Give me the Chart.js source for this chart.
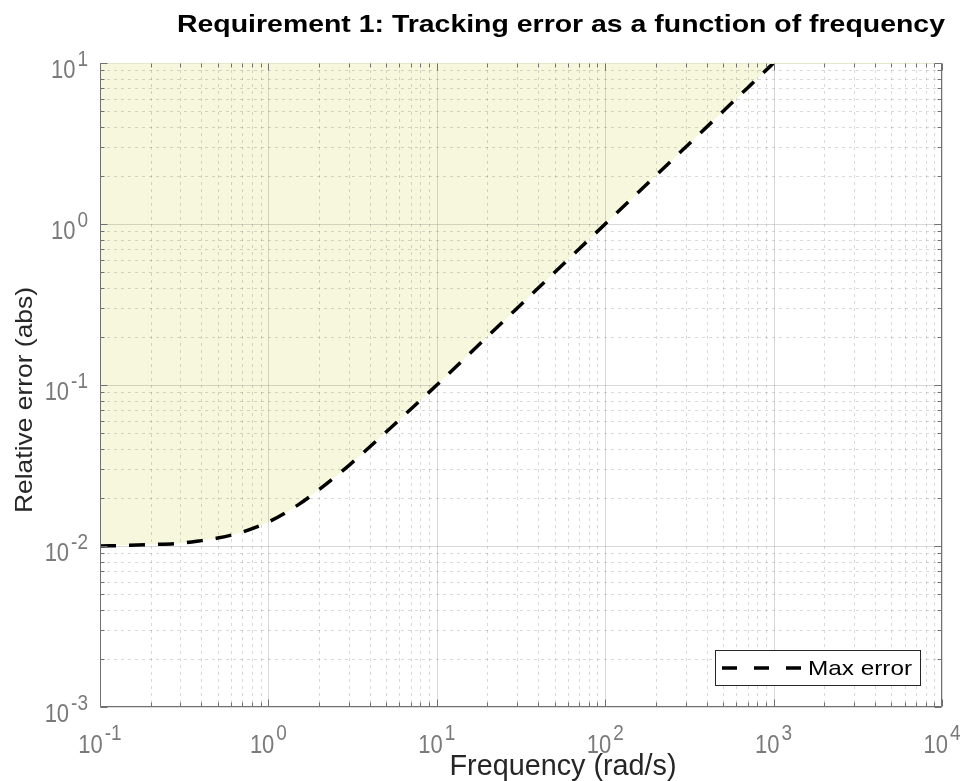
<!DOCTYPE html>
<html>
<head>
<meta charset="utf-8">
<script src="https://cdn.jsdelivr.net/npm/chart.js@4.4.1/dist/chart.umd.min.js"></script>
<style>
  html, body { margin: 0; padding: 0; background: #fff; }
  #wrap { width: 965px; height: 781px; position: relative; }
</style>
</head>
<body>
<div id="wrap"><canvas id="chart"></canvas></div>
<script>
// values (frequency in rad/s, max relative error)
const freq = [0.1, 0.15, 0.2, 0.3, 0.4, 0.5, 0.7, 1, 1.5, 2, 3, 5, 7, 10, 20, 30, 50, 70, 100, 200, 300, 500, 700, 1000];
const maxError = [0.01, 0.0101, 0.0102, 0.0104, 0.0108, 0.0112, 0.0122, 0.0141, 0.018, 0.0224, 0.0316, 0.051, 0.0707, 0.1, 0.2, 0.3, 0.5, 0.7, 1, 2, 3, 5, 7, 10];

const xDecades = [0.1, 1, 10, 100, 1000, 10000];
const xTickExp = ['-1', '0', '1', '2', '3', '4'];
const yDecades = [0.001, 0.01, 0.1, 1, 10];
const yTickExp = ['-3', '-2', '-1', '0', '1'];

const titleText = 'Requirement 1: Tracking error as a function of frequency';
const xLabel = 'Frequency (rad/s)';
const yLabel = 'Relative error (abs)';
const seriesLabel = 'Max error';

const FONT = '"Liberation Sans", Arial, Helvetica, sans-serif';
const SY = 1.2; // text in the reference looks a bit taller than usual
const DASH = [16, 13];

function drawText(ctx, text, x, y, font, color, opts) {
  opts = opts || {};
  ctx.save();
  ctx.font = font;
  ctx.fillStyle = color;
  ctx.textBaseline = 'alphabetic';
  ctx.textAlign = opts.align || 'left';
  const w = ctx.measureText(text).width;
  const sx = opts.width ? opts.width / w : 1;
  ctx.translate(x, y);
  if (opts.rotate) ctx.rotate(opts.rotate);
  ctx.scale(sx, opts.sy || 1);
  ctx.fillText(text, 0, 0);
  ctx.restore();
}

function minorValues(decades) {
  const out = [];
  for (let i = 0; i < decades.length - 1; i++) {
    for (let m = 2; m <= 9; m++) out.push(decades[i] * m);
  }
  return out;
}

const matlabAxes = {
  id: 'matlabAxes',
  beforeDatasetsDraw(chart) {
    const { ctx, chartArea: a, scales } = chart;
    const xs = scales.x, ys = scales.y;
    ctx.save();
    // minor grid (dotted)
    ctx.strokeStyle = 'rgba(0,0,0,0.15)';
    ctx.lineWidth = 1;
    ctx.setLineDash([3, 4]);
    ctx.beginPath();
    minorValues(xDecades).forEach(v => {
      const px = Math.round(xs.getPixelForValue(v)) + 0.5;
      ctx.moveTo(px, a.top); ctx.lineTo(px, a.bottom);
    });
    minorValues(yDecades).forEach(v => {
      const py = Math.round(ys.getPixelForValue(v)) + 0.5;
      ctx.moveTo(a.left, py); ctx.lineTo(a.right, py);
    });
    ctx.stroke();
    // major grid
    ctx.setLineDash([]);
    ctx.strokeStyle = 'rgba(0,0,0,0.15)';
    ctx.beginPath();
    xDecades.forEach(v => {
      const px = Math.round(xs.getPixelForValue(v)) + 0.5;
      ctx.moveTo(px, a.top); ctx.lineTo(px, a.bottom);
    });
    yDecades.forEach(v => {
      const py = Math.round(ys.getPixelForValue(v)) + 0.5;
      ctx.moveTo(a.left, py); ctx.lineTo(a.right, py);
    });
    ctx.stroke();
    ctx.restore();
  },
  afterDraw(chart) {
    const { ctx, chartArea: a, scales } = chart;
    const xs = scales.x, ys = scales.y;
    const L = a.left + 0.5, R = a.right - 0.5, T = a.top + 0.5, B = a.bottom - 0.5;
    ctx.save();
    // box
    ctx.lineWidth = 1;
    ctx.strokeStyle = '#e6e6cf';
    ctx.beginPath(); ctx.moveTo(L, T); ctx.lineTo(R, T); ctx.stroke();
    ctx.strokeStyle = '#707070';
    ctx.beginPath();
    ctx.moveTo(L, T); ctx.lineTo(L, B); ctx.lineTo(R, B); ctx.lineTo(R, T);
    ctx.stroke();
    // inside tick marks on all four sides
    ctx.beginPath();
    const xt = xDecades.map(v => [v, 7]).concat(minorValues(xDecades).map(v => [v, 4]));
    xt.forEach(([v, len]) => {
      const px = Math.round(xs.getPixelForValue(v)) + 0.5;
      ctx.moveTo(px, B); ctx.lineTo(px, B - len);
      ctx.moveTo(px, T); ctx.lineTo(px, T + len);
    });
    const yt = yDecades.map(v => [v, 7]).concat(minorValues(yDecades).map(v => [v, 4]));
    yt.forEach(([v, len]) => {
      const py = Math.round(ys.getPixelForValue(v)) + 0.5;
      ctx.moveTo(L, py); ctx.lineTo(L + len, py);
      ctx.moveTo(R, py); ctx.lineTo(R - len, py);
    });
    ctx.stroke();
    ctx.restore();

    // tick labels: "10" with raised exponent
    const baseFont = '22px ' + FONT, expFont = '19px ' + FONT, tickColor = '#7a7a7a';
    ctx.save();
    function widths(exp) {
      ctx.font = baseFont; const wb = ctx.measureText('10').width;
      ctx.font = expFont; const we = ctx.measureText(exp).width;
      return [wb, we];
    }
    xDecades.forEach((v, i) => {
      const px = xs.getPixelForValue(v);
      const [wb, we] = widths(xTickExp[i]);
      const x0 = px - (wb + we + 2) / 2;
      drawText(ctx, '10', x0, 753, baseFont, tickColor, { sy: SY });
      drawText(ctx, xTickExp[i], x0 + wb + 2, 740, expFont, tickColor, { sy: SY });
    });
    yDecades.forEach((v, i) => {
      const py = ys.getPixelForValue(v);
      const [wb, we] = widths(yTickExp[i]);
      const xr = 88;
      drawText(ctx, '10', xr - we - 2 - wb, py + 15, baseFont, tickColor, { sy: SY });
      drawText(ctx, yTickExp[i], xr - we, py + 3, expFont, tickColor, { sy: SY });
    });
    ctx.restore();

    // axis labels and title
    drawText(ctx, xLabel, 563, 775, '25px ' + FONT, '#262626', { align: 'center', width: 227, sy: SY });
    drawText(ctx, yLabel, 32, 400, '24px ' + FONT, '#262626', { align: 'center', width: 226, rotate: -Math.PI / 2 });
    drawText(ctx, titleText, 561, 32, 'bold 20px ' + FONT, '#000', { align: 'center', width: 768, sy: SY });

    // legend box
    const ds = chart.data.datasets[0];
    ctx.save();
    ctx.fillStyle = '#fff';
    ctx.fillRect(715.5, 650.5, 205, 35);
    ctx.strokeStyle = '#262626';
    ctx.lineWidth = 1;
    ctx.strokeRect(715.5, 650.5, 205, 35);
    ctx.strokeStyle = ds.borderColor;
    ctx.lineWidth = ds.borderWidth;
    ctx.setLineDash([15, 17]);
    ctx.beginPath(); ctx.moveTo(722, 668); ctx.lineTo(801, 668); ctx.stroke();
    ctx.restore();
    drawText(ctx, ds.label, 808, 675, '19px ' + FONT, '#000', { width: 104, sy: 1.1 });
  }
};

new Chart(document.getElementById('chart'), {
  type: 'line',
  data: {
    datasets: [{
      label: seriesLabel,
      data: freq.map((f, i) => ({ x: f, y: maxError[i] })),
      borderColor: '#000',
      borderWidth: 3.5,
      borderDash: DASH,
      pointRadius: 0,
      cubicInterpolationMode: 'monotone',
      fill: 'end',
      backgroundColor: 'rgb(247,247,222)'
    }]
  },
  options: {
    responsive: true,
    maintainAspectRatio: false,
    animation: false,
    layout: { padding: { left: 100, top: 63, right: 23, bottom: 74 } },
    scales: {
      x: { type: 'logarithmic', min: 0.1, max: 10000, display: false },
      y: { type: 'logarithmic', min: 0.001, max: 10, display: false }
    },
    plugins: {
      legend: { display: false },
      title: { display: false },
      tooltip: { enabled: false },
      filler: { drawTime: 'beforeDraw' }
    }
  },
  plugins: [matlabAxes]
});
</script>
</body>
</html>
